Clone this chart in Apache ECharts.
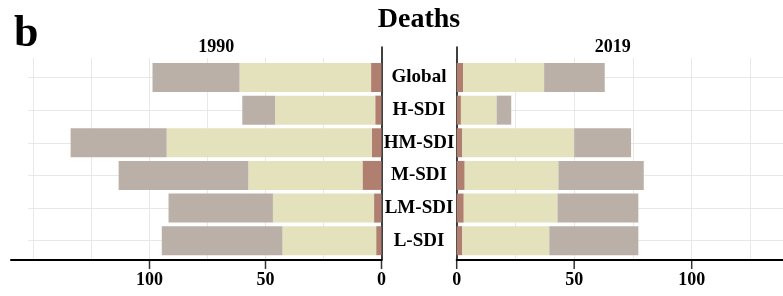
<!DOCTYPE html>
<html>
<head>
    <meta charset="UTF-8">
    <title>Deaths</title>
    <script src="https://cdn.jsdelivr.net/npm/echarts@6/dist/echarts.min.js"></script>
    <style>
        html, body { margin: 0; padding: 0; background: #fff; }
        #chart { width: 783px; height: 296px; }
    </style>
</head>
<body>
<div id="chart"></div>
<script>
    // categories, top to bottom
    var regions = ['Global', 'H-SDI', 'HM-SDI', 'M-SDI', 'LM-SDI', 'L-SDI'];
    // 1990 segments (inner -> outer)
    var seg1_1990 = [4.5, 2.7, 4.2, 8.2, 3.2, 2.3];
    var seg2_1990 = [56.7, 43.2, 88.4, 49.2, 43.6, 40.4];
    var seg3_1990 = [37.5, 14.1, 41.4, 55.9, 45.0, 52.0];
    // 2019 segments
    var seg1_2019 = [2.7, 1.8, 2.4, 3.4, 3.0, 2.4];
    var seg2_2019 = [34.5, 15.2, 47.6, 39.9, 39.9, 37.0];
    var seg3_2019 = [25.8, 6.2, 24.2, 36.3, 34.4, 37.9];
    var tickVals = [0, 50, 100];

    var colors = ['#b07f70', '#e4e1bd', '#bab0a8'];
    var serif = 'Liberation Serif';
    var gridColor = '#e8e8e8';

    // px per unit on each side
    var kL = 2.32, kR = 2.35;
    var zeroL = 381.5, zeroR = 456.7;

    var chart = echarts.init(document.getElementById('chart'));

    function frameX(gi, inverse, max) {
        return {
            type: 'value', gridIndex: gi, inverse: inverse, min: 0, max: max, interval: 25,
            axisLine: { show: true, lineStyle: { color: '#000', width: 2 } },
            axisTick: { show: false },
            axisLabel: {
                customValues: tickVals, margin: 11, color: '#000',
                fontFamily: serif, fontWeight: 'bold', fontSize: 18
            },
            splitLine: { show: true, showMaxLine: false, lineStyle: { color: gridColor, width: 1 } }
        };
    }
    function hiddenX(gi, inverse, max) {
        return { type: 'value', gridIndex: gi, inverse: inverse, min: 0, max: max, show: false };
    }
    function dataY(gi, withLabels) {
        return {
            type: 'category', gridIndex: gi, data: regions, inverse: true, boundaryGap: false,
            position: 'left',
            axisLine: { show: false }, axisTick: { show: false },
            axisLabel: withLabels ? {
                show: true, align: 'center', margin: zeroR - 419, color: '#000',
                fontFamily: serif, fontWeight: 'bold', fontSize: 19
            } : { show: false },
            splitLine: { show: true, lineStyle: { color: gridColor, width: 1 } }
        };
    }
    function lineY(gi, pos) {
        return {
            type: 'value', gridIndex: gi, position: pos,
            axisLine: { show: true, lineStyle: { color: '#000', width: 1.5 } },
            axisTick: { show: false }, axisLabel: { show: false }, splitLine: { show: false }
        };
    }
    function hiddenY(gi) {
        return { type: 'category', gridIndex: gi, data: regions, show: false };
    }
    function bars(name, data, ci, gi) {
        return {
            name: name, type: 'bar', stack: 'y' + gi, xAxisIndex: gi, yAxisIndex: gi,
            data: data, barWidth: 29, clip: false, itemStyle: { color: colors[ci] },
            silent: true
        };
    }
    // tick marks under the axis line, placed by the tick grid's own x scale
    function ticks(gi) {
        return {
            type: 'scatter', xAxisIndex: gi, yAxisIndex: gi, silent: true,
            data: tickVals.map(function (v) { return [v, 0.5]; }),
            symbol: 'rect', symbolSize: [1.5, 9], itemStyle: { color: '#000' }, z: 5
        };
    }

    var leftDataW = zeroL - 28, leftFrameW = zeroL - 11;
    var rightW = 783 - zeroR;

    chart.setOption({
        animation: false,
        grid: [
            // 0 left frame, 1 right frame
            { left: 11, width: leftFrameW, top: 58, height: 202, outerBoundsMode: 'none' },
            { left: zeroR, width: rightW, top: 58, height: 202, outerBoundsMode: 'none' },
            // 2 left data, 3 right data
            { left: 28, width: leftDataW, top: 77.5, height: 163.2, outerBoundsMode: 'none' },
            { left: zeroR, width: rightW, top: 77.5, height: 163.2, outerBoundsMode: 'none' },
            // 4,5 panel edge lines
            { left: 11, width: leftFrameW, top: 47, height: 213, outerBoundsMode: 'none' },
            { left: zeroR, width: rightW, top: 47, height: 213, outerBoundsMode: 'none' },
            // 6,7 tick strips under the axis
            { left: zeroL - 100 * kL, width: 100 * kL, top: 260, height: 9, outerBoundsMode: 'none' },
            { left: zeroR, width: 100 * kR, top: 260, height: 9, outerBoundsMode: 'none' }
        ],
        xAxis: [
            frameX(0, true, leftFrameW / kL),
            frameX(1, false, rightW / kR),
            hiddenX(2, true, leftDataW / kL),
            hiddenX(3, false, rightW / kR),
            hiddenX(4, true, 1),
            hiddenX(5, false, 1),
            hiddenX(6, true, 100),
            hiddenX(7, false, 100)
        ],
        yAxis: [
            hiddenY(0),
            hiddenY(1),
            dataY(2, false),
            dataY(3, true),
            lineY(4, 'right'),
            lineY(5, 'left'),
            { type: 'value', gridIndex: 6, min: 0, max: 1, show: false },
            { type: 'value', gridIndex: 7, min: 0, max: 1, show: false }
        ],
        series: [
            bars('seg1 1990', seg1_1990, 0, 2),
            bars('seg2 1990', seg2_1990, 1, 2),
            bars('seg3 1990', seg3_1990, 2, 2),
            bars('seg1 2019', seg1_2019, 0, 3),
            bars('seg2 2019', seg2_2019, 1, 3),
            bars('seg3 2019', seg3_2019, 2, 3),
            ticks(6),
            ticks(7)
        ],
        graphic: [
            { type: 'text', left: 14, top: 13, style: { text: 'b', fill: '#000', font: 'bold 44px "Liberation Serif"' } },
            { type: 'text', x: 419, y: 19.5, style: { text: 'Deaths', fill: '#000', align: 'center', verticalAlign: 'middle', font: 'bold 28px "Liberation Serif"' } },
            { type: 'text', x: 216.3, y: 47.2, style: { text: '1990', fill: '#000', align: 'center', verticalAlign: 'middle', font: 'bold 18px "Liberation Serif"' } },
            { type: 'text', x: 612.8, y: 47.2, style: { text: '2019', fill: '#000', align: 'center', verticalAlign: 'middle', font: 'bold 18px "Liberation Serif"' } }
        ]
    });
</script>
</body>
</html>
